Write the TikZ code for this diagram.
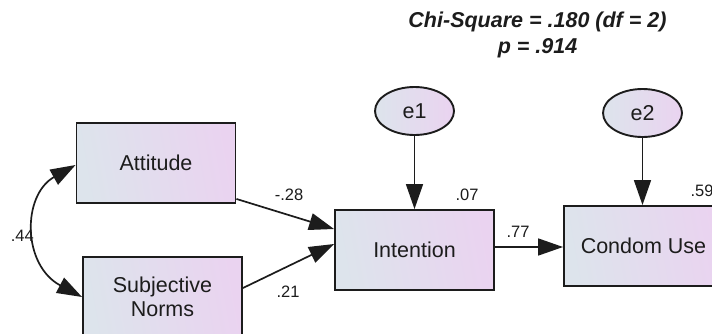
\documentclass[tikz,border=0pt]{standalone}
\usepackage{fontspec}
\setmainfont{Liberation Sans}
\usetikzlibrary{arrows.meta,shapes.geometric,calc}

\definecolor{fillL}{RGB}{221,228,236}
\definecolor{fillR}{RGB}{234,211,240}
\definecolor{ink}{RGB}{28,28,28}

\tikzset{
  varbox/.style={draw=ink, line width=1.9pt, rectangle, minimum width=159pt,
    minimum height=80pt, inner sep=0pt, left color=fillL, right color=fillR,
    shading angle=100, align=center, text=ink,
    font=\fontsize{21.5}{24.5}\selectfont},
  errnode/.style={draw=ink, line width=1.9pt, ellipse, minimum width=79pt,
    minimum height=48pt, inner sep=0pt, left color=fillL, right color=fillR,
    text=ink, font=\fontsize{21.5}{24}\selectfont},
  path/.style={draw=ink, line width=1.7pt,
    -{Triangle[length=25pt,width=17pt]}},
  coef/.style={text=ink, inner sep=0pt, font=\fontsize{16.5}{19}\selectfont},
  fit/.style={text=ink, inner sep=0pt,
    font=\fontsize{21.5}{26}\selectfont\bfseries\itshape}
}

\begin{document}
\begin{tikzpicture}[x=1pt, y=-1pt]
  \useasboundingbox (0,0) rectangle (712,333);
  \clip (0,0) rectangle (712,333);

  % observed variables
  \node[varbox] (att) at (156,163) {Attitude};
  \node[varbox] (sn)  at (162.5,297) {Subjective\\Norms};
  \node[varbox] (int) at (414.5,250) {Intention};
  \node[varbox] (cu)  at (643.5,246) {Condom Use};

  % error terms
  \node[errnode] (e1) at (414.5,111) {e1};
  \node[errnode] (e2) at (642.5,113) {e2};

  % regression paths
  \draw[path] ([yshift=5pt]att.south east) -- ([yshift=21pt]int.west);
  \draw[path] ([yshift=9pt]sn.east) -- ([yshift=6pt]int.west);
  \draw[path] ([yshift=3pt]int.east) -- ([yshift=3pt]int.east -| cu.west);
  \draw[path] (e1.south) -- (int.north);
  \draw[path] (e2.south) -- (e2.south |- cu.north);

  % covariance between the exogenous variables
  \draw[draw=ink, line width=1.7pt,
        {Triangle[length=25pt,width=17pt]}-{Triangle[length=25pt,width=17pt]}]
    ([yshift=-2pt]att.west) .. controls (22,195) and (22,265) .. (sn.west);

  % coefficients
  \node[coef, anchor=east] (c44) at (34,236) {.44};
  \node[coef] (c28) at (289,195) {-.28};
  \node[coef] (c21) at (288,292) {.21};
  \node[coef] (c07) at (467,195) {.07};
  \node[coef] (c77) at (518,232) {.77};
  \node[coef] (c59) at (702,191) {.59};

  % model fit
  \node[fit] (chi) at (537.5,22) {Chi-Square = .180 (df = 2)};
  \node[fit] (pv)  at (537.5,48) {p = .914};
\end{tikzpicture}
\end{document}
